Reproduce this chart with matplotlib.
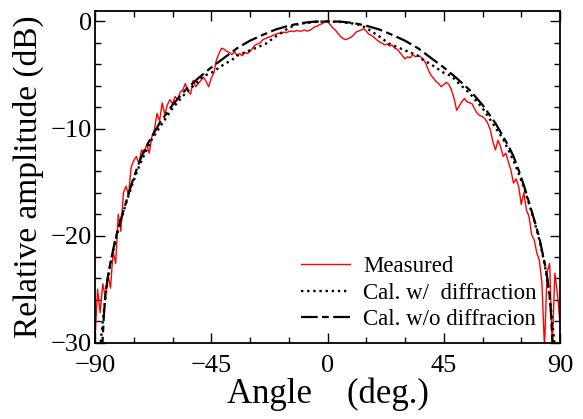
import numpy as np
import matplotlib
matplotlib.use("Agg")
import matplotlib.pyplot as plt
from matplotlib.ticker import MultipleLocator

# ---- data ----
meas_angle = list(range(-90, 91))
meas_db = [
    -29.8, -25.0, -27.2, -24.5, -25.7, -23.6, -24.9, -21.5, -22.6, -18.0,   # -90..-81
    -19.6, -16.0, -15.4, -16.2, -13.6, -13.0, -12.6, -13.3, -12.0, -12.3,   # -80..-71
    -11.5, -12.3, -10.8, -10.1, -8.6, -9.3, -7.6, -8.7, -7.8, -7.3,         # -70..-61
    -7.7, -7.0, -7.3, -6.6, -6.4, -5.8, -6.5, -6.8, -5.5, -6.1,             # -60..-51
    -5.8, -5.5, -5.2, -5.6, -6.1, -5.3, -4.8, -3.6, -3.0, -2.5,             # -50..-41
    -2.6, -2.8, -2.9, -3.1, -2.8, -3.2, -3.0, -3.2, -2.9, -3.0,             # -40..-31
    -2.8, -2.5, -2.2, -2.1, -2.0, -1.7, -1.6, -1.5, -1.4, -1.3,             # -30..-21
    -1.2, -1.1, -1.15, -1.0, -1.05, -0.95, -0.9, -0.95, -0.85, -0.9,        # -20..-11
    -0.9, -0.8, -0.9, -0.85, -0.7, -0.5, -0.45, -0.3, -0.2, -0.05,          # -10..-1
    0.0,                                                                      # 0
    -0.3, -0.6, -0.8, -1.1, -1.4, -1.6, -1.7, -1.6, -1.5, -1.3,             # 1..10
    -1.0, -0.9, -0.8, -0.7, -0.9, -1.2, -1.3, -1.5, -1.7, -1.9,             # 11..20
    -2.0, -2.2, -2.1, -2.3, -2.2, -2.5, -2.6, -2.9, -3.2, -3.5,             # 21..30
    -3.3, -3.4, -3.1, -3.3, -3.2, -3.3, -3.5, -3.9, -4.5, -5.0,             # 31..40
    -5.3, -5.6, -5.8, -6.1, -5.9, -5.7, -5.9, -6.4, -7.2, -8.3,             # 41..50
    -7.9, -7.5, -7.2, -7.5, -7.6, -7.7, -8.2, -8.6, -8.8, -8.9,             # 51..60
    -9.1, -9.5, -10.1, -11.2, -12.0, -11.1, -11.7, -12.6, -12.3, -13.1,     # 61..70
    -13.9, -15.1, -14.7, -15.4, -17.1, -16.0, -17.6, -18.2, -19.9, -20.4,   # 71..80
    -21.6, -22.3, -24.4, -30.5, -23.4, -22.6, -30.5, -23.5, -25.4, -28.2,   # 81..90
]

cal_angle = [-88.0, -87.0, -86.0, -85.0, -84.0, -82.0, -80.0, -78.0, -76.0, -74.0,
             -72.0, -70.0, -68.0, -65.0, -60.0, -55.0, -50.0, -48.0, -45.0, -40.0,
             -37.0, -35.0, -30.0, -25.0, -24.0, -20.0, -15.0, -12.0, -10.0, -5.0,
             0.0, 5.0, 10.0, 12.0, 15.0, 20.0, 24.0, 25.0, 30.0, 35.0,
             37.0, 40.0, 45.0, 48.0, 50.0, 55.0, 60.0, 65.0, 68.0, 70.0,
             72.0, 74.0, 76.0, 78.0, 80.0, 82.0, 84.0, 85.0, 86.0, 87.0, 88.0]
cal_with_diff = [-30.5, -28.0, -25.8, -24.0, -22.6, -20.4, -18.6, -17.0, -15.5, -14.2,
                 -13.0, -12.0, -11.0, -9.9, -8.1, -6.7, -5.6, -5.1, -4.8, -4.0,
                 -3.6, -3.2, -2.7, -2.2, -2.1, -1.4, -0.6, -0.3, -0.2, -0.05,
                 0.0, -0.05, -0.2, -0.3, -0.6, -1.4, -2.1, -2.2, -2.7, -3.2,
                 -3.6, -4.0, -4.8, -5.1, -5.6, -6.7, -8.1, -9.9, -11.0, -12.0,
                 -13.0, -14.2, -15.5, -17.0, -18.6, -20.4, -22.6, -24.0, -25.8, -28.0, -30.5]

nod_angle = [-87.3, -87.0, -86.5, -86.0, -85.0, -84.0, -82.0, -80.0, -78.0, -76.0,
             -74.0, -72.0, -70.0, -65.0, -60.0, -55.0, -50.0, -45.0, -40.0, -35.0,
             -30.0, -25.0, -20.0, -15.0, -10.0, -5.0, 0.0, 5.0, 10.0, 15.0,
             20.0, 25.0, 30.0, 35.0, 40.0, 45.0, 50.0, 55.0, 60.0, 65.0,
             70.0, 72.0, 74.0, 76.0, 78.0, 80.0, 82.0, 84.0, 85.0, 86.0,
             86.5, 87.0, 87.3]
cal_without_diff = [-31.0, -29.5, -27.2, -25.6, -23.8, -22.5, -20.2, -18.5, -16.9, -15.3,
                    -13.9, -12.6, -11.6, -9.5, -7.8, -6.4, -5.3, -4.3, -3.4, -2.5,
                    -1.8, -1.25, -0.75, -0.4, -0.15, -0.02, 0.0, -0.02, -0.15, -0.4,
                    -0.75, -1.25, -1.8, -2.5, -3.4, -4.3, -5.3, -6.4, -7.8, -9.5,
                    -11.6, -12.6, -13.9, -15.3, -16.9, -18.5, -20.2, -22.5, -23.8, -25.6,
                    -27.2, -29.5, -31.0]

labels = ["Measured", "Cal. w/  diffraction", "Cal. w/o diffracion"]
x_ticks = [-90, -45, 0, 45, 90]
y_ticks = [0, -10, -20, -30]

# ---- figure ----
plt.rcParams['font.family'] = ['Liberation Serif', 'DejaVu Serif']

fig = plt.figure(figsize=(5.83, 4.19), dpi=100)
ax = fig.add_axes([95/583, 1-342.7/419, (560-95)/583, (342.7-10.7)/419])

ax.plot(meas_angle, meas_db, color='#ff0000', lw=1.0, label=labels[0], zorder=2)
ax.plot(cal_angle, cal_with_diff, color='black', lw=1.7,
        linestyle=(0, (1.0, 1.6)), label=labels[1], zorder=3)
ax.plot(nod_angle, cal_without_diff, color='black', lw=1.6,
        linestyle=(0, (7.5, 2.0, 3.0, 2.0)), label=labels[2], zorder=3)

ax.set_xlim(-90, 90)
ax.set_ylim(-30, 1)
ax.set_xticks(x_ticks)
ax.set_xticklabels(['\u221290', '\u221245', '0', '45', '90'])
ax.set_yticks(y_ticks)
ax.set_yticklabels(['0', '\u221210', '\u221220', '\u221230'])
ax.xaxis.set_minor_locator(MultipleLocator(15))
ax.yaxis.set_minor_locator(MultipleLocator(2))
ax.tick_params(which='both', direction='in', top=True, right=True, width=1.0)
ax.tick_params(which='major', length=7, labelsize=19)
ax.tick_params(axis='y', which='major', pad=2)
ax.tick_params(axis='x', which='major', pad=9)
ax.tick_params(which='minor', length=4)
for s in ax.spines.values():
    s.set_linewidth(1.3)

ax.set_xlabel('Angle    (deg.)', fontsize=25, labelpad=0)
ax.set_ylabel('Relative amplitude (dB)', fontsize=24, labelpad=5)

leg = ax.legend(loc='center left', bbox_to_anchor=(301/583, 1-293/419),
                bbox_transform=fig.transFigure, frameon=False, fontsize=16.5,
                handlelength=2.15, handletextpad=0.55, labelspacing=0.22,
                borderpad=0, borderaxespad=0)

fig.savefig('out.png', dpi=100)
